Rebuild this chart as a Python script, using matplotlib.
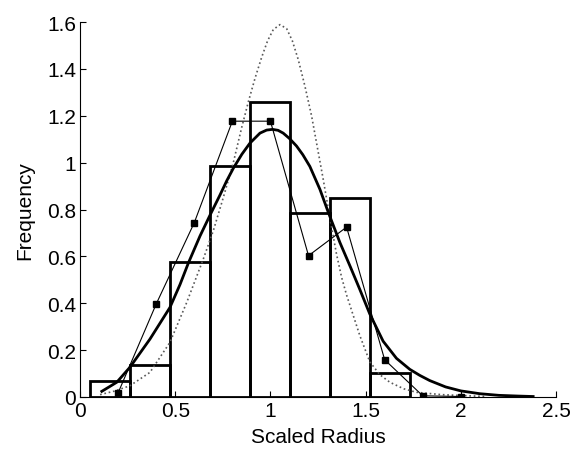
import matplotlib
matplotlib.use('Agg')
import matplotlib.pyplot as plt

plt.rcParams['font.family'] = ['Liberation Sans', 'DejaVu Sans']

# histogram (bin left edges, width, heights)
bin_left = [0.052, 0.262, 0.472, 0.682, 0.892, 1.102, 1.312, 1.522]
bin_width = 0.21
bin_height = [0.07, 0.137, 0.577, 0.986, 1.258, 0.784, 0.85, 0.102]

# sampled frequencies (star markers)
pt_x = [0.2, 0.4, 0.6, 0.8, 1.0, 1.2, 1.4, 1.6, 1.8, 2.0]
pt_y = [0.018, 0.397, 0.744, 1.177, 1.177, 0.603, 0.725, 0.159, 0.005, 0.002]

# thick fitted curve
fit_x = [0.114, 0.193, 0.262, 0.367, 0.472, 0.525, 0.569, 0.63, 0.682, 0.735,
         0.77, 0.805, 0.85, 0.892, 0.945, 0.98, 1.011, 1.04, 1.067, 1.1,
         1.137, 1.17, 1.207, 1.26, 1.303, 1.365, 1.42, 1.47, 1.522, 1.592,
         1.662, 1.732, 1.785, 1.837, 1.92, 2.0, 2.1, 2.2, 2.3, 2.38]
fit_y = [0.024, 0.063, 0.127, 0.247, 0.382, 0.48, 0.572, 0.687, 0.775, 0.862,
         0.922, 0.976, 1.036, 1.083, 1.126, 1.139, 1.142, 1.138, 1.126, 1.103,
         1.071, 1.034, 0.984, 0.886, 0.79, 0.659, 0.555, 0.458, 0.354, 0.238,
         0.165, 0.118, 0.092, 0.07, 0.043, 0.026, 0.014, 0.007, 0.004, 0.002]

# dotted curve
dot_x = [0.105, 0.18, 0.262, 0.367, 0.472, 0.56, 0.647, 0.70, 0.752, 0.805,
         0.849, 0.884, 0.919, 0.954, 0.985, 1.015, 1.05, 1.085, 1.115, 1.146,
         1.181, 1.216, 1.242, 1.277, 1.312, 1.347, 1.374, 1.40, 1.47, 1.522,
         1.575, 1.627, 1.70, 1.767, 1.9, 2.01, 2.13]
dot_y = [0.01, 0.025, 0.048, 0.105, 0.233, 0.403, 0.588, 0.71, 0.85, 1.0,
         1.15, 1.26, 1.36, 1.45, 1.52, 1.568, 1.589, 1.572, 1.52, 1.44,
         1.327, 1.2, 1.085, 0.93, 0.765, 0.61, 0.51, 0.435, 0.261, 0.15,
         0.095, 0.063, 0.035, 0.02, 0.01, 0.006, 0.002]

fig = plt.figure(figsize=(5.72, 4.52), dpi=100)
ax = fig.add_axes([0.14, 0.1195, 0.832, 0.8295])

ax.bar(bin_left, bin_height, width=bin_width, align='edge', fill=False,
       edgecolor='black', linewidth=2)
ax.plot(dot_x, dot_y, linestyle=':', color='0.35', linewidth=1.2)
ax.plot(fit_x, fit_y, color='black', linewidth=2, solid_joinstyle='round')
ax.plot(pt_x, pt_y, color='black', linewidth=0.8, marker='s', markersize=4.5)

ax.set_xlim(0, 2.5)
ax.set_ylim(0, 1.6)
ax.set_xticks([0, 0.5, 1, 1.5, 2, 2.5])
ax.set_xticklabels(['0', '0.5', '1', '1.5', '2', '2.5'])
ax.set_yticks([0, 0.2, 0.4, 0.6, 0.8, 1.0, 1.2, 1.4, 1.6])
ax.set_yticklabels(['0', '0.2', '0.4', '0.6', '0.8', '1', '1.2', '1.4', '1.6'])
ax.tick_params(direction='in', length=4, labelsize=15, pad=3)
for s in ['top', 'right']:
    ax.spines[s].set_visible(False)
for s in ['left', 'bottom']:
    ax.spines[s].set_linewidth(0.8)

ax.set_xlabel('Scaled Radius', fontsize=15, labelpad=5)
ax.set_ylabel('Frequency', fontsize=15, labelpad=9)

fig.savefig('out.png', dpi=100)
